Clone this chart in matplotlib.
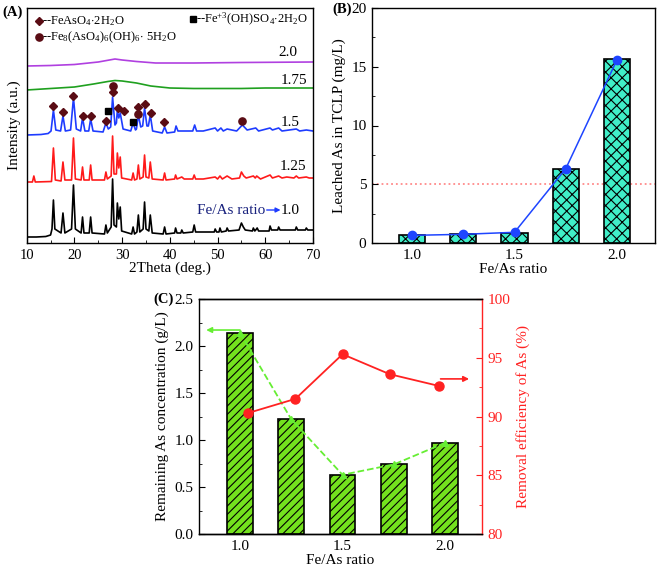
import matplotlib
matplotlib.use('Agg')
import matplotlib.pyplot as plt
import numpy as np
from matplotlib.ticker import MultipleLocator, FormatStrFormatter

plt.rcParams['font.family'] = ['Liberation Serif', 'DejaVu Serif']
plt.rcParams['mathtext.fontset'] = 'custom'
plt.rcParams['mathtext.rm'] = 'Liberation Serif'
plt.rcParams['mathtext.it'] = 'Liberation Serif:italic'
plt.rcParams['mathtext.bf'] = 'Liberation Serif:bold'
plt.rcParams['hatch.linewidth'] = 0.8
plt.rcParams['axes.linewidth'] = 1.0

# ---------------- data ----------------
# (A) XRD patterns: (2theta, intensity a.u. above each pattern's own baseline)
xrd_10 = [(10.0, 0), (12.0, 0), (14.0, 0.5), (15.0, 2), (15.3, 8), (15.6, 37), (15.9, 8), (17.2, 4), (17.6, 24),
          (18.0, 4), (19.4, 8), (19.8, 52), (20.2, 8), (21.4, 4), (21.7, 20), (22.0, 4), (23.1, 4), (23.4, 20),
          (23.7, 4), (26.3, 3), (26.6, 12), (26.9, 4), (27.7, 10), (28.0, 58), (28.3, 12), (28.8, 10), (29.0, 34),
          (29.3, 18), (29.6, 30), (29.9, 6), (32.0, 3), (32.3, 10), (32.6, 3), (33.1, 5), (33.4, 22), (33.7, 5),
          (34.4, 8), (34.7, 35), (35.0, 8), (35.6, 6), (35.9, 22), (36.3, 4), (38.6, 3), (38.9, 10), (39.2, 3),
          (41.0, 4), (41.2, 9), (41.5, 4), (42.3, 4), (42.5, 7), (42.8, 4), (44.8, 5), (45.1, 12), (45.4, 5),
          (47.0, 5), (49.3, 5), (49.5, 8), (49.8, 5), (50.3, 5), (50.5, 9), (50.8, 5), (51.8, 6), (52.0, 9),
          (52.3, 6), (54.5, 7), (55.0, 14), (55.4, 10), (55.8, 7), (57.3, 6), (57.5, 9), (57.8, 6), (58.0, 7),
          (58.3, 9), (58.6, 6), (60.8, 6), (61.0, 11), (61.3, 7), (62.6, 7), (62.8, 10), (63.1, 7), (64.0, 7),
          (66.3, 7), (66.5, 10), (66.8, 7), (68.4, 7), (68.6, 9), (68.9, 7), (70.0, 7)]
xrd_125 = [(10.0, 0), (11.2, 0), (11.5, 6), (11.8, 0), (15.2, 0.5), (15.6, 34), (16.0, 2), (17.2, 1), (17.6, 20),
           (18.0, 2), (19.4, 2), (19.8, 44), (20.2, 3), (21.4, 2), (21.7, 15), (22.0, 2), (23.1, 2), (23.4, 17),
           (23.7, 2), (26.3, 2), (26.6, 10), (26.9, 3), (27.7, 6), (28.0, 46), (28.3, 8), (28.8, 8), (29.0, 29),
           (29.3, 14), (29.6, 25), (29.9, 4), (32.0, 2), (32.3, 9), (32.6, 2), (33.1, 3), (33.4, 17), (33.7, 3),
           (34.4, 5), (34.7, 27), (35.0, 5), (35.6, 4), (35.9, 20), (36.3, 3), (38.6, 2), (38.9, 9), (39.2, 2),
           (41.0, 3), (41.2, 7), (41.5, 3), (42.5, 5), (43.0, 3), (44.8, 3), (45.1, 7), (45.4, 3), (47.0, 3),
           (49.5, 5), (50.0, 3), (50.5, 6), (51.0, 3), (52.0, 6), (53.0, 3), (54.6, 4), (55.0, 10), (55.5, 6),
           (56.0, 4), (57.5, 6), (57.9, 4), (58.2, 6), (59.0, 3), (61.0, 7), (61.5, 4), (62.8, 6), (63.5, 4),
           (64.5, 5), (66.0, 4), (66.5, 6), (67.0, 4), (68.6, 5), (69.2, 4), (70.0, 4)]
xrd_15 = [(10.0, 0), (13.0, 0.5), (14.5, 1.5), (15.1, 4), (15.6, 25), (16.1, 5), (17.1, 4), (17.6, 19), (18.1, 4),
          (19.2, 5), (19.8, 37), (20.4, 6), (21.3, 4), (21.7, 17), (22.2, 4), (23.0, 4), (23.4, 16), (23.9, 4),
          (26.0, 3), (26.6, 12), (27.1, 6), (27.6, 8), (28.0, 38), (28.5, 10), (28.8, 12), (29.0, 25), (29.3, 17),
          (29.6, 22), (30.2, 6), (31.8, 4), (32.3, 12), (32.8, 5), (33.0, 6), (33.4, 20), (33.9, 8), (34.3, 9),
          (34.7, 27), (35.2, 9), (35.5, 9), (35.9, 20), (36.4, 4), (38.4, 2), (38.9, 8), (39.4, 2), (41.0, 3),
          (41.3, 9), (41.7, 4), (43.0, 4), (44.8, 4), (45.2, 10), (45.6, 4), (47.0, 4), (49.5, 7), (50.0, 4),
          (50.7, 7), (51.2, 4), (52.0, 6), (54.0, 4), (55.2, 10), (56.2, 5), (58.0, 7), (58.6, 4), (61.0, 7),
          (61.5, 5), (62.8, 7), (63.5, 4), (65.0, 5), (66.5, 6), (67.2, 4), (68.6, 5), (70.0, 4)]
xrd_175 = [(10.0, 0), (15.0, 1.5), (20.0, 3), (24.0, 6), (27.0, 8.5), (28.5, 9.5), (30.0, 9), (33.0, 7),
           (36.0, 4), (40.0, 2), (45.0, 1.5), (55.0, 1.5), (60.0, 2), (70.0, 2)]
xrd_20 = [(10.0, 0), (15.0, 0.5), (20.0, 1.5), (25.0, 4), (28.5, 7), (30.0, 6), (33.0, 4.5), (37.0, 3),
          (45.0, 3), (55.0, 3.5), (70.0, 4)]
xrd_labels = ['1.0', '1.25', '1.5', '1.75', '2.0']

# phase markers on the 1.5 pattern (2theta, a.u.)
feaso4_tt = [15.6, 17.7, 19.8, 21.8, 23.4, 26.7, 28.1, 29.2, 30.4, 33.4, 34.8, 36.0, 38.8]
feaso4_y = [137, 131, 147, 127, 127, 122, 151, 135, 132, 136, 139, 130, 121]
fe8_tt = [28.1, 33.4, 55.2]
fe8_y = [157, 129, 122]
fesulf_tt = [27.1, 32.3]
fesulf_y = [132, 121]

# (B) TCLP leaching
ratios = [1.0, 1.25, 1.5, 1.75, 2.0]
leached_bar = [0.68, 0.74, 0.88, 6.33, 15.63]
leached_pts = [0.65, 0.74, 0.91, 6.33, 15.6]
tclp_limit = 5.0

# (C) remaining As and removal efficiency
remaining = [2.14, 1.22, 0.63, 0.74, 0.97]
removal_x = [1.04, 1.27, 1.5, 1.73, 1.97]
removal = [90.3, 91.5, 95.3, 93.6, 92.6]

# ---------------- layout helpers ----------------
W, H = 661, 569
fig = plt.figure(figsize=(W / 100, H / 100), dpi=100)


def box(l, t, r, b):
    return [l / W, 1 - b / H, (r - l) / W, (b - t) / H]


TICK_FS = 11
LAB_FS = 11

# ---------------- (A) ----------------
axA = fig.add_axes(box(26.7, 8, 313, 243))
offsets = [6, 61, 108, 153, 177]
colors = ['black', '#FF1A1A', '#1E3CFF', '#1FA01F', '#B040E0']
for pts, off, col in zip([xrd_10, xrd_125, xrd_15, xrd_175, xrd_20], offsets, colors):
    tt = [p[0] for p in pts]
    inten = [p[1] + off for p in pts]
    axA.plot(tt, inten, color=col, lw=1.2, zorder=2)
maroon = '#5A0C14'
axA.plot(feaso4_tt, feaso4_y, 'D', color=maroon, ms=4.2, zorder=4, ls='none')
axA.plot(fe8_tt, fe8_y, 'o', color=maroon, ms=5.2, zorder=4, ls='none')
axA.plot(fesulf_tt, fesulf_y, 's', color='black', ms=4.6, zorder=4, ls='none')
axA.set_xlim(10, 70)
axA.set_ylim(0, 235)
axA.set_yticks([])
axA.xaxis.set_major_locator(MultipleLocator(10))
axA.xaxis.set_minor_locator(MultipleLocator(5))
axA.tick_params(axis='x', which='both', direction='in', labelsize=10.5, pad=4)
axA.tick_params(axis='x', which='major', length=4)
axA.tick_params(axis='x', which='minor', length=2.5)
axA.set_xlabel('2Theta (deg.)', fontsize=LAB_FS, labelpad=0)
axA.set_ylabel('Intensity (a.u.)', fontsize=LAB_FS, labelpad=4)
# legend-like annotations
axA.plot([12.65], [222], 'D', color=maroon, ms=4.2, ls='none')
axA.text(13.3, 222, r'--FeAsO$_4$$\cdot$2H$_2$O', fontsize=9, va='center', ha='left')
axA.plot([12.65], [206], 'o', color=maroon, ms=5.2, ls='none')
axA.text(13.3, 206, r'--Fe$_8$(AsO$_4$)$_6$(OH)$_6$$\cdot$ 5H$_2$O', fontsize=9, va='center', ha='left')
axA.plot([44.9], [224], 's', color='black', ms=4.6, ls='none')
axA.text(45.5, 224, r'--Fe$^{+3}$(OH)SO$_4$$\cdot$2H$_2$O', fontsize=9, va='center', ha='left')
# pattern labels
axA.text(66.8, 190, xrd_labels[4], fontsize=LAB_FS, ha='right', va='center')
axA.text(68.8, 163, xrd_labels[3], fontsize=LAB_FS, ha='right', va='center')
axA.text(67.2, 121, xrd_labels[2], fontsize=LAB_FS, ha='right', va='center')
axA.text(68.7, 76, xrd_labels[1], fontsize=LAB_FS, ha='right', va='center')
axA.text(59.9, 33, 'Fe/As ratio', fontsize=LAB_FS, ha='right', va='center', color='#1A237E')
axA.annotate('', xy=(63.2, 33), xytext=(60.3, 33),
             arrowprops=dict(arrowstyle='-|>', color='#1E3CFF', lw=1.0, mutation_scale=7, shrinkA=0, shrinkB=0))
axA.text(67.2, 33, xrd_labels[0], fontsize=LAB_FS, ha='right', va='center')
fig.text(2 / W, 1 - 12 / H, '(A)', fontsize=10.5, fontweight='bold', ha='left', va='center')

# ---------------- (B) ----------------
axB = fig.add_axes(box(372, 8, 655, 243))
axB.bar(ratios, leached_bar, width=0.128, color='#40EEC8', edgecolor='black', hatch='xxx', lw=1.2, zorder=2)
axB.plot(ratios, leached_pts, '-o', color='#1E45FF', ms=6, lw=1.1, zorder=3)
axB.axhline(tclp_limit, color='#FF8A8A', ls=':', lw=1.3, zorder=1)
axB.set_xlim(0.805, 2.185)
axB.set_ylim(0, 20)
axB.xaxis.set_major_locator(MultipleLocator(0.5))
axB.xaxis.set_minor_locator(MultipleLocator(0.25))
axB.xaxis.set_major_formatter(FormatStrFormatter('%.1f'))
axB.yaxis.set_major_locator(MultipleLocator(5))
axB.yaxis.set_minor_locator(MultipleLocator(2.5))
axB.tick_params(which='both', direction='in', labelsize=TICK_FS, pad=4)
axB.tick_params(which='major', length=4)
axB.tick_params(which='minor', length=2.5)
axB.set_xlabel('Fe/As ratio', fontsize=LAB_FS, labelpad=1)
axB.set_ylabel('Leached As in TCLP (mg/L)', fontsize=LAB_FS, labelpad=4)
fig.text(332 / W, 1 - 9 / H, '(B)', fontsize=10.5, fontweight='bold', ha='left', va='center')

# ---------------- (C) ----------------
axC = fig.add_axes(box(199, 299, 482, 534))
green_line = '#66EE33'
red = '#FF2222'
axC.bar(ratios, remaining, width=0.125, color='#74E21E', edgecolor='black', hatch='////', lw=1.2, zorder=2)
axC.plot(ratios, remaining, '--^', color=green_line, ms=5, lw=1.3, zorder=3)
axC.set_xlim(0.8, 2.18)
axC.set_ylim(0, 2.5)
axC.xaxis.set_major_locator(MultipleLocator(0.5))
axC.xaxis.set_minor_locator(MultipleLocator(0.25))
axC.xaxis.set_major_formatter(FormatStrFormatter('%.1f'))
axC.yaxis.set_major_locator(MultipleLocator(0.5))
axC.yaxis.set_minor_locator(MultipleLocator(0.25))
axC.yaxis.set_major_formatter(FormatStrFormatter('%.1f'))
axC.tick_params(which='both', direction='in', labelsize=TICK_FS, pad=4)
axC.tick_params(which='major', length=4)
axC.tick_params(which='minor', length=2.5)
axC.set_xlabel('Fe/As ratio', fontsize=LAB_FS, labelpad=1)
axC.set_ylabel('Remaining As concentration (g/L)', fontsize=LAB_FS, labelpad=4)
axC.spines['right'].set_visible(False)
axC.annotate('', xy=(0.835, 2.17), xytext=(1.0, 2.17),
             arrowprops=dict(arrowstyle='-|>', color=green_line, lw=1.2, mutation_scale=8, shrinkA=0, shrinkB=0))

axC2 = axC.twinx()
axC2.plot(removal_x, removal, '-o', color=red, ms=6.5, lw=1.3, zorder=3)
axC2.set_ylim(80, 100)
axC2.yaxis.set_major_locator(MultipleLocator(5))
axC2.yaxis.set_minor_locator(MultipleLocator(2.5))
axC2.tick_params(which='both', direction='in', labelsize=TICK_FS, colors=red, pad=4)
axC2.tick_params(which='major', length=4)
axC2.tick_params(which='minor', length=2.5)
axC2.spines['right'].set_color(red)
axC2.spines['left'].set_visible(False)
axC2.set_ylabel('Removal efficiency of As (%)', fontsize=LAB_FS, color=red, labelpad=4)
axC2.annotate('', xy=(2.117, 93.2), xytext=(1.978, 93.2),
              arrowprops=dict(arrowstyle='-|>', color=red, lw=1.2, mutation_scale=8, shrinkA=0, shrinkB=0))
fig.text(153 / W, 1 - 299 / H, '(C)', fontsize=10.5, fontweight='bold', ha='left', va='center')

fig.savefig('out.png', dpi=100)
